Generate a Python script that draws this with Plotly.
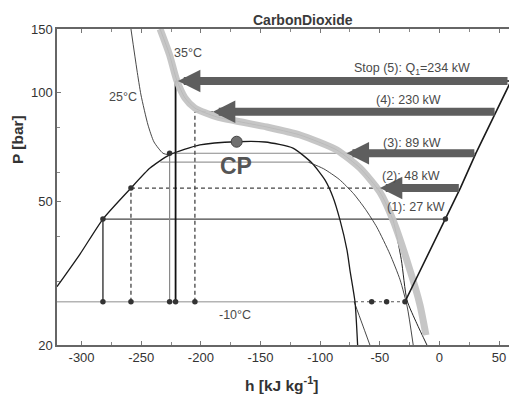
import numpy as np
import plotly.graph_objects as go

# ---- CO2 saturation dome (h in kJ/kg, P in bar) ----
dome_h = [-320.6, -301.3, -282.1, -258.6, -242.6, -226.2, -200.8, -170.0,
          -146.3, -122.8, -106.9, -96.0, -89.3, -83.4, -77.5, -75.0, -70.8, -68.6]
dome_p = [29.0, 35.7, 44.65, 54.4, 61.8, 67.2, 71.6, 73.1,
          72.97, 70.2, 63.8, 57.3, 51.4, 44.4, 36.6, 32.2, 26.35, 20.0]
cp_h, cp_p = -170.0, 73.1

# ---- 25 degC isotherm ----
t25_liq_h = [-258.6, -253.6, -250.2, -244.3, -239.3, -231.7, -226.2]
t25_liq_p = [150.0, 115.5, 98.5, 81.3, 73.0, 67.9, 67.2]
t25_sat_h = [-234.0, -110.0]
t25_sat_p = [64.2, 64.2]
t25_vap_h = [-110.0, -97.0, -84.0, -72.0, -62.0, -52.5, -41.5, -33.0, -27.0, -22.0]
t25_vap_p = [64.2, 61.5, 57.5, 52.5, 47.5, 42.4, 35.7, 30.3, 25.5, 20.0]

# ---- 35 degC isotherm (highlighted band + thin line) ----
t35_h = [-234.2, -226.2, -220.3, -213.3, -205.0, -186.5, -144.6, -116.9,
         -85.9, -66.6, -49.9, -39.0, -24.7, -16.3, -11.3]
t35_p = [150.0, 127.1, 108.3, 96.6, 90.6, 85.6, 80.3, 76.3,
         69.3, 61.8, 53.0, 44.4, 32.2, 25.8, 21.3]
t35_thin_h = [-234.2, -226.2, -220.3, -213.3, -205.0, -186.5, -144.6, -116.9,
              -85.9, -66.6, -49.9, -39.0, -32.0, -27.2, -18.9, -10.5]
t35_thin_p = [150.0, 127.1, 108.3, 96.6, 90.6, 85.6, 80.3, 76.3,
              69.3, 61.8, 53.0, 44.4, 34.5, 26.6, 22.9, 20.0]

# ---- -10 degC evaporation ----
p_evap = 26.35
evap_line_h = [-320.6, -70.8]
superheat_h = [-70.8, -56.8, -44.3, -28.9]
tm10_vap_h = [-71.5, -65.0, -58.3]
tm10_vap_p = [26.35, 23.0, 20.0]

# ---- charging steps ----
step_p = [44.65, 54.4, 67.9, 88.5, 107.7]
step_h_exit = [-282.1, -258.6, -226.2, -205.0, -221.2]
step_h_disc = [5.0, 17.5, 30.5, 47.5, 58.3]
arrow_tip_h = [None, -49.9, -77.8, -189.9, -219.2]
step_labels = ["(1): 27 kW", "(2): 48 kW", "(3): 89 kW", "(4): 230 kW",
               "Stop (5): Q<sub>1</sub>=234 kW"]
label_h = [6.3, 2.1, 2.9, 2.9, 27.2]
label_p = [48.2, 58.7, 72.5, 95.4, 116.2]
step_color = ["#444444", "#444444", "#8a8a8a", "#444444", "#111111"]
step_dash = ["solid", "4px,3px", "solid", "4px,3px", "solid"]
step_width = [1.5, 1.3, 1.2, 1.3, 1.8]

# compressor discharge line
disc_h = [-28.9, 5.0, 17.5, 30.5, 47.5, 59.0]
disc_p = [26.35, 44.65, 54.4, 67.9, 88.5, 106.0]

# axis ticks
x_ticks = [-300, -250, -200, -150, -100, -50, 0, 50]
x_minor = [-275, -225, -175, -125, -75, -25, 25]
y_ticks = [20, 50, 100, 150]
y_minor = [30, 40, 60, 80]

FONT = "Arial, Liberation Sans, sans-serif"

fig = go.Figure()


def line(h, p, color, width, dash="solid", shape="linear", smoothing=1.0):
    fig.add_trace(go.Scatter(
        x=h, y=p, mode="lines", hoverinfo="skip", showlegend=False,
        line=dict(color=color, width=width, dash=dash, shape=shape,
                  smoothing=smoothing)))


# evaporator isotherm
line(evap_line_h, [p_evap, p_evap], "#b4b4b4", 1.4)
line(superheat_h, [p_evap] * len(superheat_h), "#555555", 1.2, dash="3px,3px")
line(tm10_vap_h, tm10_vap_p, "#333333", 0.9, shape="spline", smoothing=0.6)
# 25 degC two-phase line
line(t25_sat_h, t25_sat_p, "#9a9a9a", 1.1)

# expansion (vertical) and gas cooler (horizontal) lines of each step
for i in range(5):
    line([step_h_exit[i], step_h_exit[i]], [p_evap, step_p[i]],
         step_color[i], step_width[i], dash=step_dash[i])
    line([step_h_exit[i], step_h_disc[i]], [step_p[i], step_p[i]],
         step_color[i], step_width[i] * 0.9, dash=step_dash[i])

# saturation dome
line(dome_h, dome_p, "#1a1a1a", 1.3, shape="spline", smoothing=0.6)
# isotherms
line(t25_liq_h, t25_liq_p, "#333333", 0.9, shape="spline", smoothing=0.6)
line(t25_vap_h, t25_vap_p, "#333333", 0.9, shape="spline", smoothing=0.6)
line(t35_thin_h, t35_thin_p, "#222222", 1.0, shape="spline", smoothing=0.6)
line(t35_h, t35_p, "rgba(195,195,195,0.95)", 7, shape="spline", smoothing=0.6)
# discharge line
line(disc_h, disc_p, "#1a1a1a", 1.6)

# state points
dot_h = step_h_exit[:3] + step_h_exit + superheat_h[1:] + [step_h_disc[0]]
dot_p = step_p[:3] + [p_evap] * 5 + [p_evap] * 3 + [step_p[0]]
fig.add_trace(go.Scatter(x=dot_h, y=dot_p, mode="markers", hoverinfo="skip",
                         showlegend=False,
                         marker=dict(size=5.5, color="#333333")))
# critical point
fig.add_trace(go.Scatter(x=[cp_h], y=[cp_p], mode="markers", hoverinfo="skip",
                         showlegend=False,
                         marker=dict(size=11, color="#707070",
                                     line=dict(color="#444444", width=1))))

annotations = []
# heat rejection arrows
for i in range(1, 5):
    annotations.append(dict(
        x=arrow_tip_h[i], y=np.log10(step_p[i]), ax=step_h_disc[i],
        ay=np.log10(step_p[i]), xref="x", yref="y", axref="x", ayref="y",
        text="", showarrow=True, arrowhead=2, arrowsize=0.56, arrowwidth=8,
        arrowcolor="#5e5e5e"))
# step labels
for i in range(5):
    annotations.append(dict(
        x=label_h[i], y=np.log10(label_p[i]), xref="x", yref="y",
        text=step_labels[i], showarrow=False, xanchor="right", yanchor="middle",
        font=dict(family=FONT, size=12.5, color="#4a4a4a")))
# isotherm labels
for txt, h, p in [("25°C", -265.2, 97.2), ("35°C", -210.8, 128.7),
                  ("-10°C", -171.0, 24.2)]:
    annotations.append(dict(x=h, y=np.log10(p), xref="x", yref="y", text=txt,
                            showarrow=False,
                            font=dict(family=FONT, size=12.5, color="#4a4a4a")))
annotations.append(dict(x=-170.6, y=np.log10(62.6), xref="x", yref="y",
                        text="<b>CP</b>", showarrow=False,
                        font=dict(family=FONT, size=23, color="#555555")))
# titles
annotations.append(dict(x=0.545, y=1.028, xref="paper", yref="paper",
                        xanchor="center", yanchor="middle",
                        text="<b>CarbonDioxide</b>", showarrow=False,
                        font=dict(family=FONT, size=14, color="#3a3a3a")))
annotations.append(dict(x=-0.086, y=0.649, xref="paper", yref="paper",
                        xanchor="center", yanchor="middle",
                        text="<b>P [bar]</b>", showarrow=False, textangle=-90,
                        font=dict(family=FONT, size=15.5, color="#333333")))
annotations.append(dict(x=0.497, y=-0.123, xref="paper", yref="paper",
                        xanchor="center", yanchor="middle",
                        text="<b>h [kJ kg<sup>-1</sup>]</b>", showarrow=False,
                        font=dict(family=FONT, size=15.5, color="#333333")))

axis_common = dict(showgrid=False, zeroline=False, showline=True,
                   linecolor="#666666", linewidth=1.5, ticks="inside",
                   ticklen=4, tickcolor="#777777", tickwidth=1,
                   tickfont=dict(family=FONT, size=13, color="#333333"))

fig.update_layout(
    width=509, height=394,
    margin=dict(l=57, r=0, t=29, b=49),
    paper_bgcolor="white", plot_bgcolor="white",
    annotations=annotations,
    xaxis=dict(range=[-320.6, 58.3], tickmode="array",
               tickvals=x_ticks, ticktext=[str(v) for v in x_ticks],
               mirror="allticks",
               minor=dict(tickvals=x_minor, ticks="inside", ticklen=3,
                          tickcolor="#888888"),
               **axis_common),
    yaxis=dict(type="log", range=[np.log10(20), np.log10(150)],
               tickmode="array", tickvals=y_ticks,
               ticktext=[str(v) for v in y_ticks], mirror=False,
               minor=dict(tickvals=y_minor, ticks="inside", ticklen=3,
                          tickcolor="#888888"),
               **axis_common),
)

fig.write_html("out.html")
